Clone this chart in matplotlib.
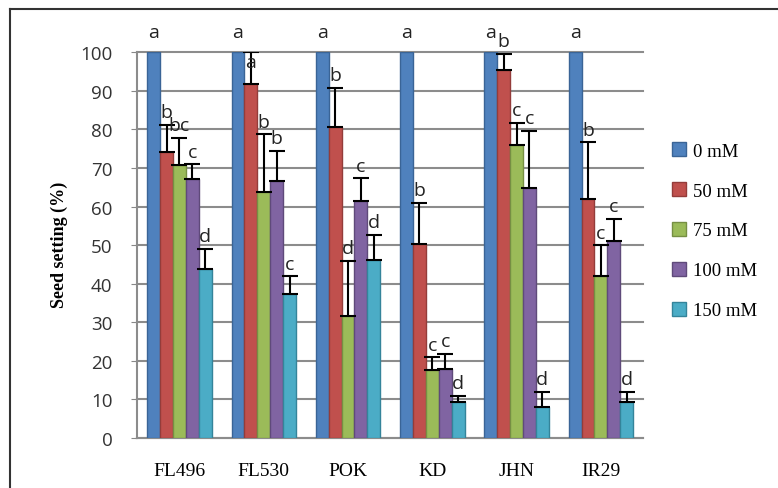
import matplotlib
matplotlib.use("Agg")
import matplotlib.pyplot as plt
import numpy as np
from matplotlib.lines import Line2D
from matplotlib.patches import Patch

categories = ["FL496", "FL530", "POK", "KD", "JHN", "IR29"]
series_names = ["0 mM", "50 mM", "75 mM", "100 mM", "150 mM"]

mean_0 = [100, 100, 100, 100, 100, 100]
mean_50 = [74.2, 91.8, 80.6, 50.2, 95.3, 62.0]
mean_75 = [70.7, 63.8, 31.7, 17.6, 75.9, 42.1]
mean_100 = [67.1, 66.7, 61.5, 17.9, 64.8, 51.0]
mean_150 = [43.8, 37.2, 46.2, 9.4, 8.1, 9.4]

top_0 = [100, 100, 100, 100, 100, 100]
top_50 = [81.1, 100, 90.7, 61.0, 99.5, 76.6]
top_75 = [77.7, 78.7, 45.9, 20.9, 81.6, 49.9]
top_100 = [70.9, 74.4, 67.3, 21.8, 79.6, 56.7]
top_150 = [48.9, 41.9, 52.7, 10.9, 12.0, 12.0]

letters_0 = ["a", "a", "a", "a", "a", "a"]
letters_50 = ["b", "a", "b", "b", "b", "b"]
letters_75 = ["bc", "b", "d", "c", "c", "c"]
letters_100 = ["c", "b", "c", "c", "c", "c"]
letters_150 = ["d", "c", "d", "d", "d", "d"]

means = [mean_0, mean_50, mean_75, mean_100, mean_150]
tops = [top_0, top_50, top_75, top_100, top_150]
letters = [letters_0, letters_50, letters_75, letters_100, letters_150]

colors = ["#4F81BD", "#C0504D", "#9BBB59", "#8064A2", "#4BACC6"]
edges = ["#3A6496", "#943C3A", "#768F43", "#5F4A7A", "#34849A"]

fig = plt.figure(figsize=(7.78, 4.89), dpi=100)
ax = fig.add_axes([0.1765, 0.1022, 0.650, 0.789])

x = np.arange(len(categories))
w = 0.153
for i in range(5):
    pos = x + (i - 2) * w
    m = np.array(means[i], dtype=float)
    t = np.array(tops[i], dtype=float)
    ax.bar(pos, m, width=w, color=colors[i], edgecolor=edges[i], linewidth=1.0, zorder=3)
    if i > 0:
        ax.errorbar(pos, m, yerr=[np.zeros_like(m), t - m], fmt="none", ecolor="black",
                    elinewidth=1.5, capsize=5.5, capthick=1.5, zorder=4)
    for j in range(len(categories)):
        if i == 0:
            ly = 102.8
        elif t[j] >= 100:
            ly = t[j] - 5.0
        else:
            ly = t[j] + 1.0
        ax.text(pos[j], ly, letters[i][j], ha="center", va="bottom",
                fontsize=14, family="Open Sans", color="#222222", zorder=5, clip_on=False)

ax.set_xlim(-0.5, len(categories) - 0.5)
ax.set_ylim(0, 100)
ax.set_yticks(np.arange(0, 101, 10))
ax.set_xticks(x)
ax.set_xticklabels(categories, family="Liberation Serif", fontsize=14)
ax.tick_params(axis="x", length=0, pad=17)
ax.tick_params(axis="y", length=4, color="#888888", pad=14, labelsize=13.5)
for lab in ax.get_yticklabels():
    lab.set_family("Open Sans")
    lab.set_color("#333333")
ax.yaxis.grid(True, color="#8c8c8c", linewidth=1.5, zorder=0)
for gl in ax.yaxis.get_gridlines():
    gl.set_clip_on(False)
ax.set_axisbelow(True)
for s in ["top", "right"]:
    ax.spines[s].set_visible(False)
ax.spines["left"].set_color("#8c8c8c")
ax.spines["bottom"].set_color("#8c8c8c")
ax.spines["left"].set_linewidth(1.5)
ax.spines["bottom"].set_linewidth(1.5)

ax.set_ylabel("Seed setting (%)", family="Liberation Serif", fontweight="bold", fontsize=13)
ax.yaxis.set_label_coords(-0.137, 0.503)

handles = [Patch(facecolor=colors[i], edgecolor=edges[i], label=series_names[i]) for i in range(5)]
fig.legend(handles=handles, loc="center left", bbox_to_anchor=(0.842, 0.526), frameon=False,
           prop={"family": "Liberation Serif", "size": 13.5}, handlelength=0.75, handleheight=0.75,
           handletextpad=0.35, labelspacing=1.2)

fig.add_artist(Line2D([10 / 778, 10 / 778], [0, 1 - 10 / 489], transform=fig.transFigure,
                      color="#333333", linewidth=1.5))
fig.add_artist(Line2D([10 / 778, 1], [1 - 10 / 489, 1 - 10 / 489], transform=fig.transFigure,
                      color="#333333", linewidth=1.5))

fig.savefig("out.png", dpi=100)
